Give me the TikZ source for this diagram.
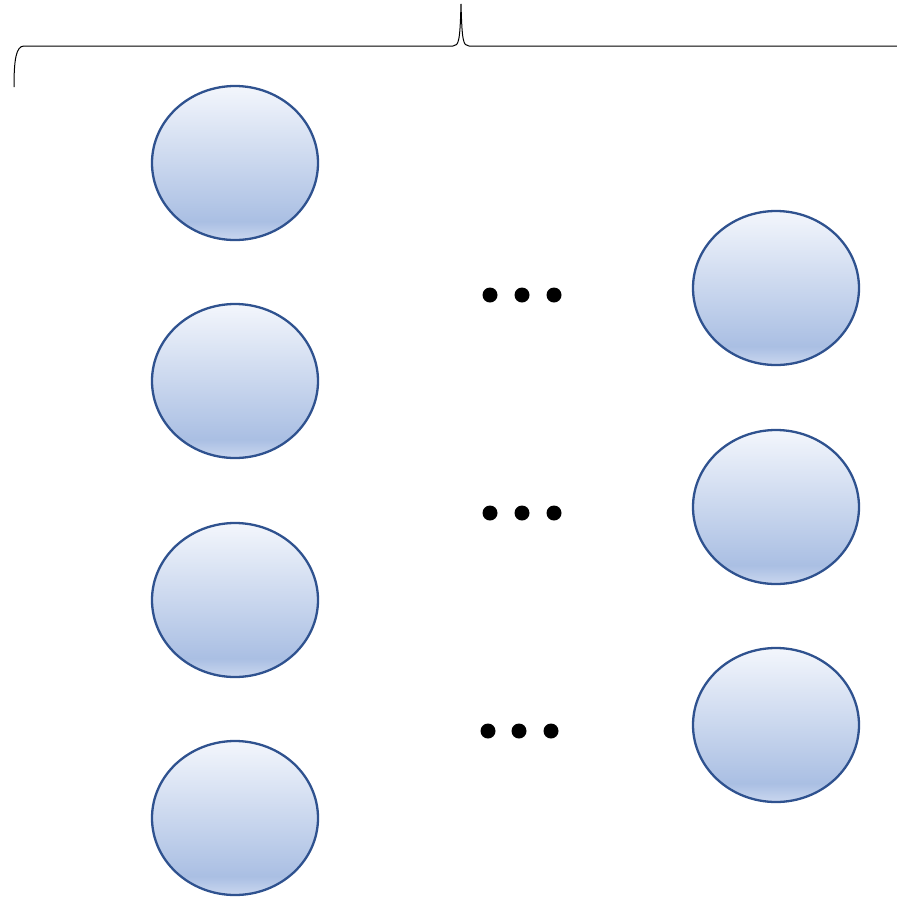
\documentclass[tikz,border=0pt]{standalone}
\usetikzlibrary{shapes.geometric}
\definecolor{ballline}{HTML}{2F528F}
\definecolor{balltop}{HTML}{F3F6FC}
\definecolor{ballmid}{HTML}{AABFE3}
\definecolor{ballbot}{HTML}{CAD7EF}
\pgfdeclareverticalshading{ballshade}{100bp}{color(0bp)=(ballbot); color(25bp)=(ballbot); color(31bp)=(ballmid); color(75bp)=(balltop); color(100bp)=(balltop)}
\tikzset{
  ball/.style={ellipse, draw=ballline, line width=2.3pt, shading=ballshade, minimum width=166pt, minimum height=154pt, inner sep=0pt},
  dotmark/.style={circle, fill=black, minimum size=15pt, inner sep=0pt},
  bracestyle/.style={line width=1pt, black}
}
\begin{document}
\begin{tikzpicture}[x=1pt,y=-1pt]
\useasboundingbox (0,0) rectangle (897,898);
\begin{scope}
\clip (0,0) rectangle (897,898);
\coordinate (bl) at (14,87);
\coordinate (tip) at (461,4);
\coordinate (br) at (905,46);
\draw[bracestyle] (bl) .. controls (14,60) and (16,46) .. (24,46) -- (453,46) .. controls (459,46) and (460,40) .. (tip) .. controls (462,40) and (463,46) .. (469,46) -- (br);
\end{scope}
\node[ball] (l1) at (235,163) {};
\node[ball] (l2) at (235,381) {};
\node[ball] (l3) at (235,600) {};
\node[ball] (l4) at (235,818) {};
\node[ball] (r1) at (776,288) {};
\node[ball] (r2) at (776,507) {};
\node[ball] (r3) at (776,725) {};
\node[dotmark] (d11) at (490,295) {};
\node[dotmark] (d12) at (522,295) {};
\node[dotmark] (d13) at (554,295) {};
\node[dotmark] (d21) at (490,513) {};
\node[dotmark] (d22) at (522,513) {};
\node[dotmark] (d23) at (554,513) {};
\node[dotmark] (d31) at (488,731) {};
\node[dotmark] (d32) at (519,731) {};
\node[dotmark] (d33) at (551,731) {};
\end{tikzpicture}
\end{document}
